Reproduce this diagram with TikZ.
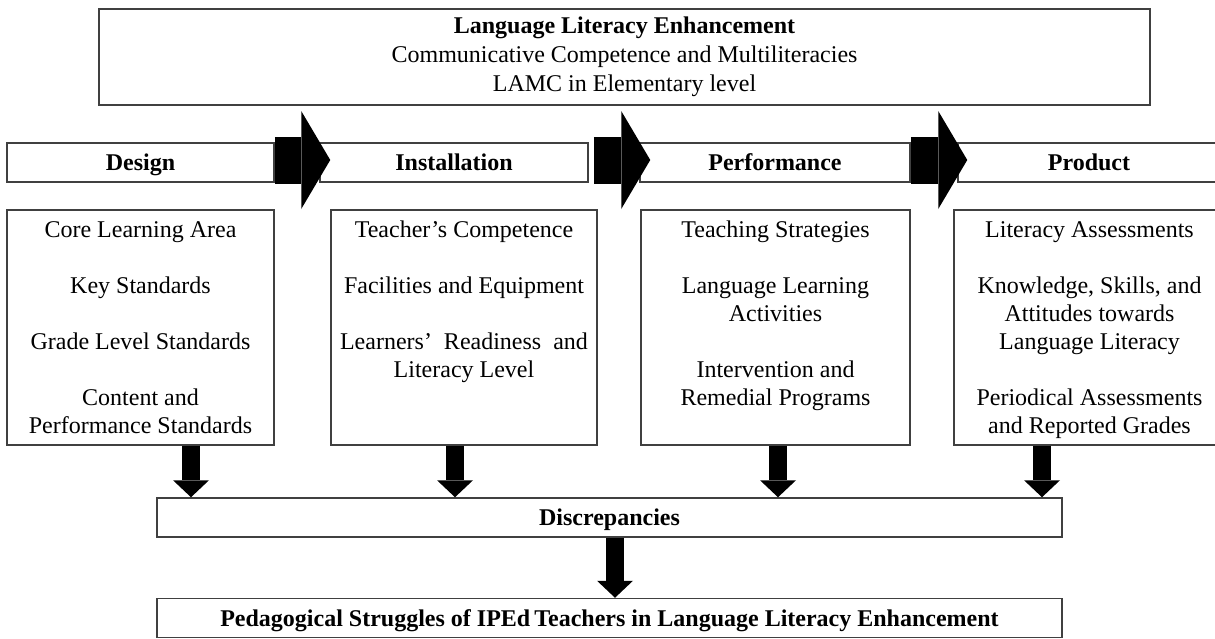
\documentclass[tikz,border=0pt]{standalone}
\usepackage{fontspec}
\setmainfont{Liberation Serif}
\usetikzlibrary{arrows.meta}
\newcommand{\itemlist}[1]{\begin{tabular}[t]{@{}c@{}}#1\end{tabular}}
\tikzset{
  frame/.style={draw=black!75, line width=0.75pt, inner sep=0pt},
  stage/.style={frame, minimum height=19.5pt, text height=9.5pt, text depth=1.5pt, font=\fontsize{12}{14}\selectfont\bfseries},
  list/.style={frame, anchor=north, text height=14pt, text depth=103.5pt},
  darr/.style={line width=9pt, -{Triangle[width=18pt,length=8.5pt,line width=0pt]}},
  harr/.style={line width=23.5pt, -{Triangle[width=49pt,length=14.5pt,line width=0pt]}}
}

\begin{document}
\begin{tikzpicture}[x=0.5pt, y=-0.5pt, font=\fontsize{12}{14}\selectfont]
\useasboundingbox (0,0) rectangle (1215,638);

\node[frame, minimum width=525.5pt, minimum height=48pt, align=center, font=\fontsize{12}{14.5}\selectfont] (enh) at (624.5,57) {\textbf{Language Literacy Enhancement}\\ Communicative Competence and Multiliteracies\\ LAMC in Elementary level};

\node[stage, minimum width=133.5pt] (design) at (140.5,162.5) {Design};
\node[stage, minimum width=134pt] (install) at (454,162.5) {Installation};
\node[stage, minimum width=135pt] (perform) at (775,162.5) {Performance};
\node[stage, minimum width=131pt] (product) at (1089,162.5) {Product};

\node[list, minimum width=133.5pt] (cdesign) at (140.5,209) {\itemlist{Core Learning Area\\[14pt] Key Standards\\[14pt] Grade Level Standards\\[14pt] Content and\\ Performance Standards}};
\node[list, minimum width=133pt] (cinstall) at (464,209) {\itemlist{Teacher's Competence\\[14pt] Facilities and Equipment\\[14pt] Learners'~ Readiness~ and\\ Literacy Level}};
\node[list, minimum width=134.5pt] (cperform) at (775.5,209) {\itemlist{Teaching Strategies\\[14pt] Language Learning\\ Activities\\[14pt] Intervention and\\ Remedial Programs}};
\node[list, minimum width=135.5pt] (cproduct) at (1089.5,209) {\itemlist{Literacy Assessments\\[14pt] Knowledge, Skills, and\\ Attitudes towards\\ Language Literacy\\[14pt] Periodical Assessments\\ and Reported Grades}};

\node[stage, minimum width=452.5pt] (disc) at (609.5,517.5) {Discrepancies};
\node[stage, minimum width=452.5pt] (strug) at (609.5,618) {Pedagogical Struggles of IPEd\,Teachers in Language Literacy Enhancement};

% stage arrows
\coordinate (h1) at ([yshift=1.25pt]design.east);
\coordinate (t1) at ([xshift=5.5pt]install.west);
\draw[harr] (h1) -- (h1 -| t1);
\coordinate (h2) at ([xshift=2.5pt,yshift=1.25pt]install.east);
\coordinate (t2) at ([xshift=5.5pt]perform.west);
\draw[harr] (h2) -- (h2 -| t2);
\coordinate (h3) at ([yshift=1.25pt]perform.east);
\coordinate (t3) at ([xshift=5pt]product.west);
\draw[harr] (h3) -- (h3 -| t3);

% down arrows
\coordinate (d1) at ([xshift=25.25pt]cdesign.south);
\coordinate (d2) at ([xshift=-4.5pt]cinstall.south);
\coordinate (d3) at ([xshift=1.25pt]cperform.south);
\coordinate (d4) at ([xshift=-23.75pt]cproduct.south);
\foreach \d in {d1,d2,d3,d4}
  \draw[darr] (\d) -- (\d |- disc.north);
\coordinate (m) at ([xshift=2.75pt]disc.south);
\draw[darr] (m) -- (m |- strug.north);
\end{tikzpicture}
\end{document}
